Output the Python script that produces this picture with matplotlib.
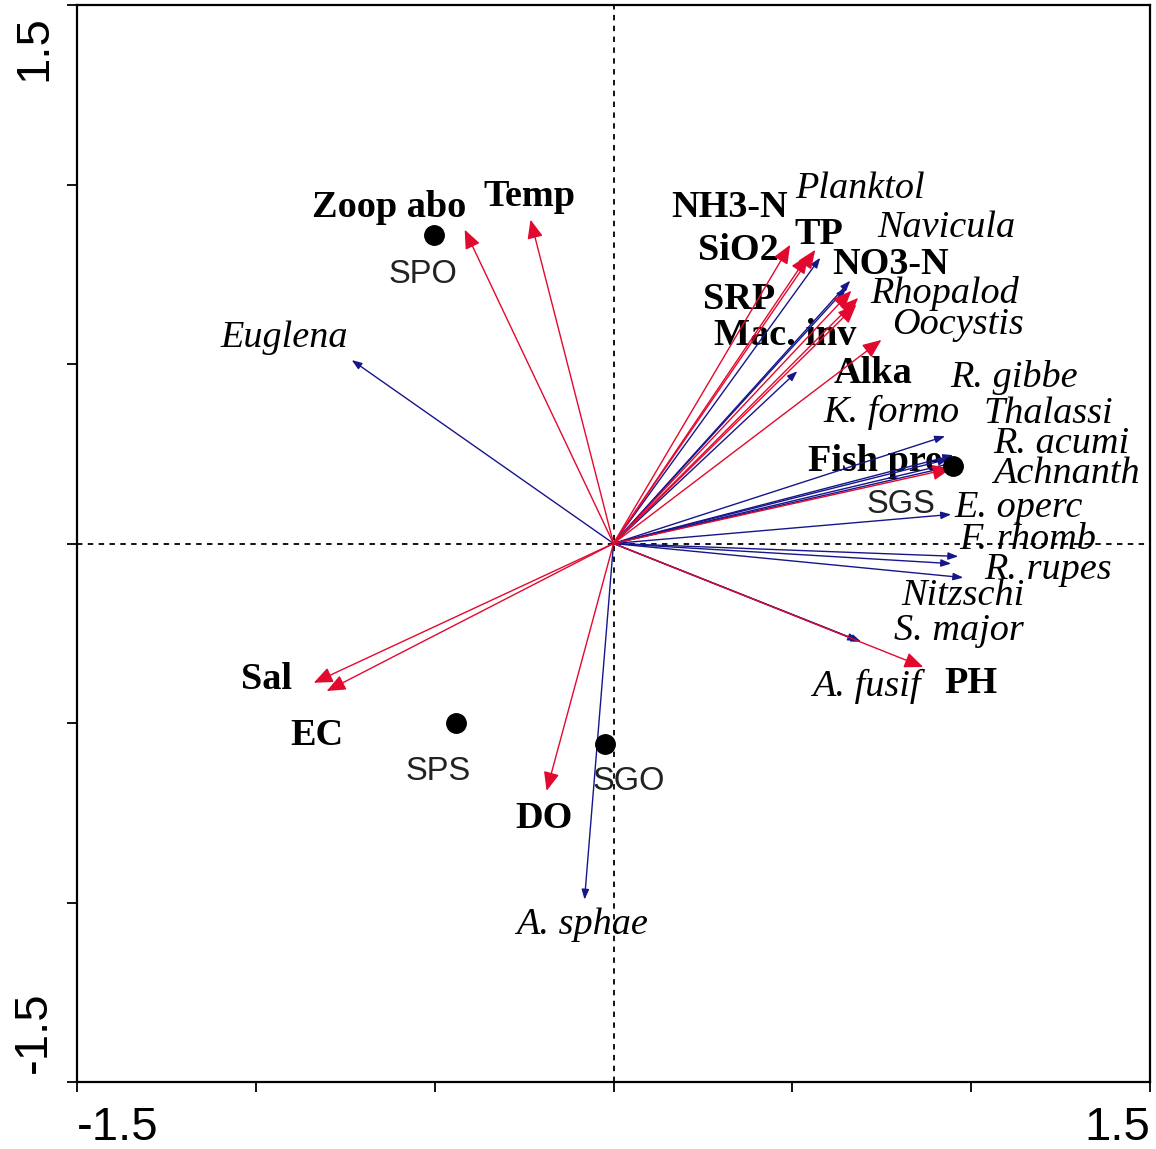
import matplotlib
matplotlib.use("Agg")
import matplotlib.pyplot as plt
from matplotlib.transforms import ScaledTranslation

# Environmental variables (red biplot arrows)
env_names = ["Zoop abo", "Temp", "NH3-N", "SiO2", "TP", "NO3-N", "SRP",
             "Mac. inv", "Alka", "Fish pre", "Sal", "EC", "DO", "PH"]
env_x = [-0.416, -0.232, 0.545, 0.494, 0.564, 0.665, 0.684,
         0.679, 0.749, 0.944, -0.838, -0.802, -0.187, 0.866]
env_y = [0.874, 0.902, 0.804, 0.832, 0.818, 0.704, 0.684,
         0.665, 0.567, 0.209, -0.388, -0.411, -0.689, -0.344]

# Species (blue arrows)
sp_names = ["Planktol", "Navicula", "Rhopalod", "Oocystis", "Euglena",
            "R. gibbe", "K. formo", "Thalassi", "R. acumi", "Achnanth",
            "E. operc", "F. rhomb", "R. rupes", "Nitzschi", "S. major",
            "A. fusif", "A. sphae"]
sp_x = [0.578, 0.662, 0.651, 0.514, -0.732,
        0.927, 0.950, 0.936, 0.955, 0.958,
        0.944, 0.964, 0.944, 0.978, 0.684,
        0.693, -0.081]
sp_y = [0.796, 0.732, 0.712, 0.480, 0.511,
        0.299, 0.246, 0.235, 0.226, 0.218,
        0.081, -0.036, -0.056, -0.095, -0.271,
        -0.274, -0.992]

# Sampling sites
site_names = ["SPO", "SGS", "SPS", "SGO"]
site_x = [-0.503, 0.950, -0.439, -0.025]
site_y = [0.858, 0.215, -0.500, -0.559]

# Axis ticks
tick_vals = [-1.5, -1.0, -0.5, 0.0, 0.5, 1.0, 1.5]
tick_text = ["-1.5", "", "", "", "", "", "1.5"]

# Label placement (data units)
env_lab_x = [-0.626, -0.235, 0.324, 0.349, 0.573, 0.774, 0.352,
             0.480, 0.726, 0.732, -0.969, -0.830, -0.193, 1.000]
env_lab_y = [0.935, 0.966, 0.935, 0.815, 0.862, 0.776, 0.681,
             0.580, 0.474, 0.228, -0.378, -0.534, -0.766, -0.389]
sp_lab_x = [0.690, 0.930, 0.927, 0.964, -0.922,
            1.120, 0.777, 1.215, 1.251, 1.265,
            1.134, 1.159, 1.215, 0.978, 0.966,
            0.707, -0.089]
sp_lab_y = [0.988, 0.879, 0.695, 0.608, 0.572,
            0.463, 0.365, 0.362, 0.278, 0.193,
            0.100, 0.010, -0.073, -0.146, -0.244,
            -0.397, -1.062]
site_lab_x = [-0.534, 0.804, -0.489, 0.042]
site_lab_y = [0.748, 0.108, -0.635, -0.663]

RED = "#E3092E"
BLUE = "#16168A"
SERIF = ["Liberation Serif", "DejaVu Serif"]
SANS = ["Liberation Sans", "DejaVu Sans"]

fig = plt.figure(figsize=(11.56, 11.49), dpi=100)
ax = fig.add_axes([77 / 1156, 1 - 1082 / 1149, (1150 - 77) / 1156, (1082 - 5) / 1149])
ax.set_xlim(-1.5, 1.5)
ax.set_ylim(-1.5, 1.5)

# zero reference lines
ax.axhline(0, color="black", lw=1.3, ls=(0, (3, 3)), zorder=3)
ax.axvline(0, color="black", lw=1.3, ls=(0, (3, 3)), zorder=3)

# species arrows
for x, y in zip(sp_x, sp_y):
    ax.annotate("", xy=(x, y), xytext=(0, 0),
                arrowprops=dict(arrowstyle="-|>,head_length=6,head_width=2.2",
                                mutation_scale=1, color=BLUE, lw=1.0,
                                shrinkA=0, shrinkB=0), zorder=4)

# environmental arrows
for x, y in zip(env_x, env_y):
    ax.annotate("", xy=(x, y), xytext=(0, 0),
                arrowprops=dict(arrowstyle="-|>,head_length=11.5,head_width=4.8",
                                mutation_scale=1, color=RED, lw=1.0,
                                shrinkA=0, shrinkB=0), zorder=5)

# sites
ax.plot(site_x, site_y, "o", color="black", ms=14, zorder=6, ls="none")

for name, x, y in zip(env_names, env_lab_x, env_lab_y):
    ax.text(x, y, name, family=SERIF, weight="bold", fontsize=27.5,
            ha="center", va="center", color="black", zorder=2)
for name, x, y in zip(sp_names, sp_lab_x, sp_lab_y):
    ax.text(x, y, name, family=SERIF, style="italic", fontsize=27.5,
            ha="center", va="center", color="black", zorder=2)
for name, x, y in zip(site_names, site_lab_x, site_lab_y):
    ax.text(x, y, name, family=SANS, fontsize=23.5,
            ha="center", va="center", color="#222222", zorder=2)

for s in ax.spines.values():
    s.set_linewidth(1.6)

ax.set_xticks(tick_vals)
ax.set_xticklabels(tick_text, family=SANS, fontsize=34)
ax.set_yticks(tick_vals)
ax.set_yticklabels(tick_text, family=SANS, fontsize=34, rotation=90)
ax.tick_params(axis="both", direction="out", length=7, width=1.3)
ax.tick_params(axis="x", pad=10)
ax.tick_params(axis="y", pad=8)

xl = ax.get_xticklabels()
xl[0].set_ha("left")
xl[-1].set_ha("right")
yl = ax.get_yticklabels()
yl[0].set_va("bottom")
yl[-1].set_va("top")
yl[0].set_transform(yl[0].get_transform() + ScaledTranslation(0, 9 / 100, fig.dpi_scale_trans))
yl[-1].set_transform(yl[-1].get_transform() + ScaledTranslation(0, -10 / 100, fig.dpi_scale_trans))

fig.savefig("out.png", dpi=100, facecolor="white")
